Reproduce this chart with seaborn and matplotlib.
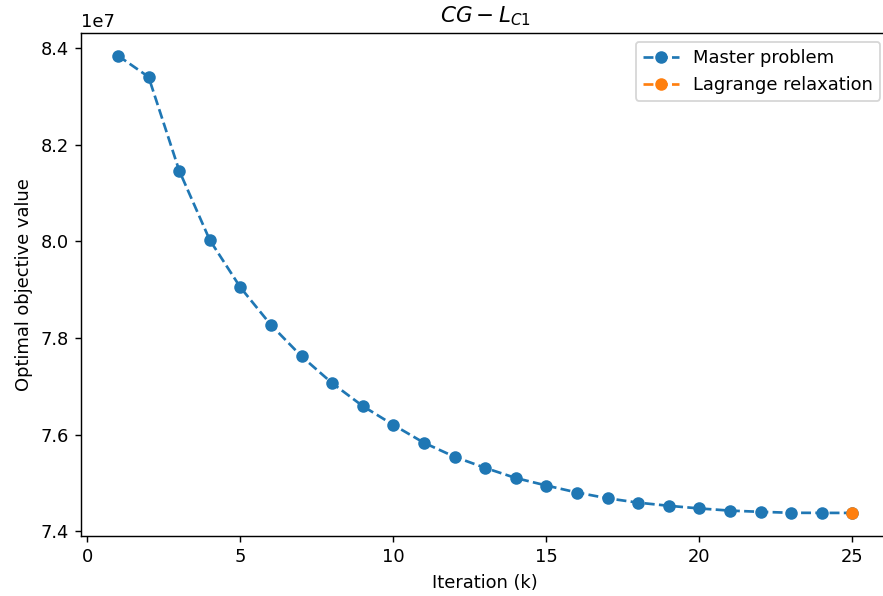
import matplotlib
matplotlib.use("Agg")
import matplotlib.pyplot as plt
import seaborn as sns
import pandas as pd

iterations = list(range(1, 26))
master_values = [8.385e7, 8.341e7, 8.147e7, 8.003e7, 7.905e7, 7.827e7, 7.762e7, 7.7065e7,
                 7.659e7, 7.620e7, 7.583e7, 7.554e7, 7.531e7, 7.510e7, 7.4945e7, 7.480e7,
                 7.468e7, 7.459e7, 7.4525e7, 7.447e7, 7.4425e7, 7.440e7, 7.438e7, 7.4378e7, 7.4377e7]
lagrange_iter = [25]
lagrange_values = [7.4377e7]

plt.rcParams['font.family'] = ['DejaVu Sans']
DPI = 129
fig, ax = plt.subplots(figsize=(883 / DPI, 596 / DPI), dpi=DPI)

df_master = pd.DataFrame({"Iteration": iterations, "Value": master_values})
df_lag = pd.DataFrame({"Iteration": lagrange_iter, "Value": lagrange_values})

sns.lineplot(data=df_master, x="Iteration", y="Value", ax=ax, color="#1f77b4",
             linestyle="--", marker="o", markersize=7, markeredgewidth=0,
             label="Master problem")
sns.lineplot(data=df_lag, x="Iteration", y="Value", ax=ax, color="#ff7f0e",
             linestyle="--", marker="o", markersize=7, markeredgewidth=0,
             label="Lagrange relaxation")

ax.set_xlabel("Iteration (k)")
ax.set_ylabel("Optimal objective value")
ax.set_title(r"$CG - L_{C1}$")
ax.legend(loc="upper right")
ax.set_xticks([0, 5, 10, 15, 20, 25])

fig.subplots_adjust(left=0.092, right=1.007, top=0.945, bottom=0.101)
fig.savefig("out.png", dpi=DPI)
